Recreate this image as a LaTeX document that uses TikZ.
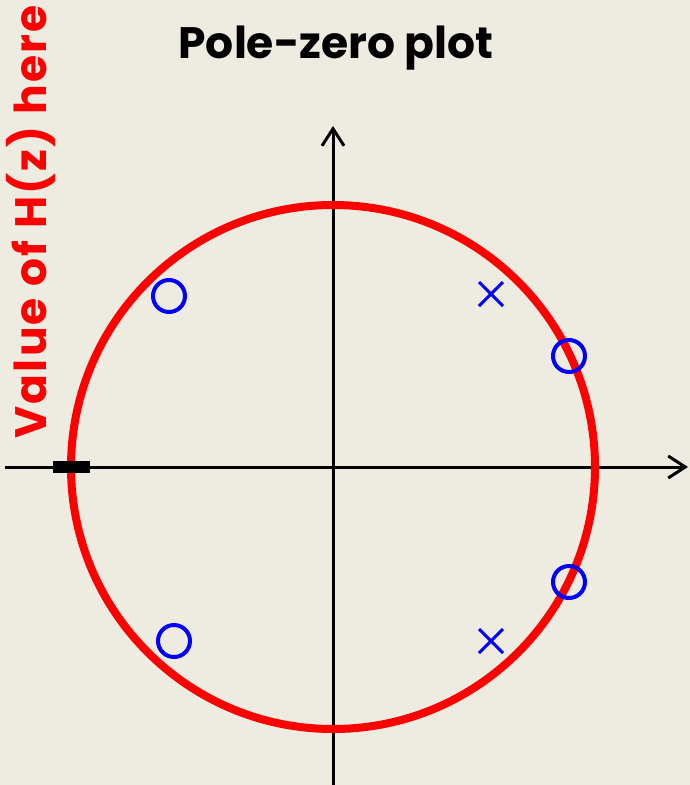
\documentclass[tikz,border=0pt]{standalone}
\usepackage{fontspec}
\setmainfont{Poppins}
\newfontfamily\sidefont[LetterSpace=5]{Poppins}
\usetikzlibrary{arrows.meta,calc}
\definecolor{bg}{RGB}{238,235,224}
\begin{document}
\begin{tikzpicture}[x=1pt,y=-1pt,
  axis/.style={line width=3pt,-{Straight Barb[length=17pt,width=22pt,line width=3pt]}},
  unitcircle/.style={draw=red,line width=8pt},
  zero/.style={circle,draw=blue,line width=4pt,minimum size=32pt,inner sep=0pt},
  pole/.style={draw=blue,line width=3pt},
  titletext/.style={font=\fontsize{44}{50}\selectfont\bfseries},
  sidetext/.style={font=\sidefont\fontsize{44}{50}\selectfont\bfseries,text=red,rotate=90}]
\fill[bg] (0,0) rectangle (690,785);
\useasboundingbox (0,0) rectangle (690,785);
\coordinate (o) at (333,467);
\coordinate (xl) at (5,467);
\coordinate (xr) at (688,467);
\coordinate (yb) at (333,785);
\coordinate (yt) at (333,126);
\draw[axis] (xl) -- (xr);
\draw[axis] (yb) -- (yt);
\draw[unitcircle] (o) circle[radius=262];
\node[fill=black,minimum width=37pt,minimum height=12pt,inner sep=0pt] (mark) at (71.5,467) {};
\node[zero] (z1) at (169,296) {};
\node[zero] (z2) at (569,356) {};
\node[zero] (z3) at (569,582) {};
\node[zero] (z4) at (174,641) {};
\coordinate (p1) at (491,294);
\coordinate (p2) at (491,641);
\draw[pole] ($(p1)+(-12,-12)$) -- ($(p1)+(12,12)$) ($(p1)+(-12,12)$) -- ($(p1)+(12,-12)$);
\draw[pole] ($(p2)+(-12,-12)$) -- ($(p2)+(12,12)$) ($(p2)+(-12,12)$) -- ($(p2)+(12,-12)$);
\node[titletext] (title) at (336,48) {Pole-zero plot};
\node[sidetext] (side) at (31,222) {Value of H(z) here};
\end{tikzpicture}
\end{document}
